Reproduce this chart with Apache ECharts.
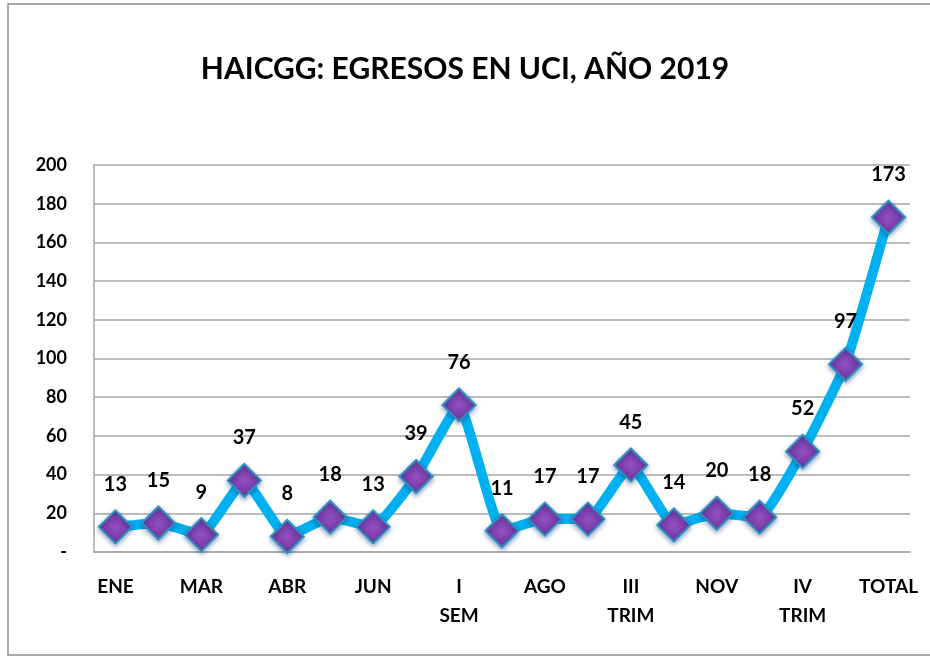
<!DOCTYPE html>
<html>
<head>
<meta charset="utf-8">
<title>HAICGG egresos UCI</title>
<script src="https://cdn.jsdelivr.net/npm/echarts@6/dist/echarts.min.js"></script>
<style>
  html, body { margin: 0; padding: 0; background: #fff; }
  #chart { width: 930px; height: 661px; }
</style>
</head>
<body>
<div id="chart"></div>
<script>
// meses, trimestres, semestres y total
var categorias = ['ENE', 'FEB', 'MAR', 'I\nTRIM', 'ABR', 'MAY', 'JUN', 'II\nTRIM', 'I\nSEM',
                  'JUL', 'AGO', 'SEP', 'III\nTRIM', 'OCT', 'NOV', 'DIC', 'IV\nTRIM', 'II\nSEM', 'TOTAL'];
var egresos = [13, 15, 9, 37, 8, 18, 13, 39, 76, 11, 17, 17, 45, 14, 20, 18, 52, 97, 173];
var yTicks = { min: 0, max: 200, interval: 20 };

var chart = echarts.init(document.getElementById('chart'));
var fuente = 'Lato, "Open Sans", sans-serif';

chart.setOption({
  backgroundColor: '#fff',
  animation: false,
  title: {
    text: 'HAICGG: EGRESOS EN UCI, AÑO 2019',
    left: 'center',
    top: 49,
    textStyle: { fontFamily: fuente, fontWeight: 'bold', fontSize: 30, color: '#000' }
  },
  graphic: [{
    type: 'rect',
    shape: { x: 8, y: 4, width: 940, height: 651 },
    style: { fill: 'none', stroke: '#8c8c8c', lineWidth: 1.5 },
    silent: true
  }],
  grid: { left: 94, right: 20, top: 165, bottom: 109 },
  xAxis: {
    type: 'category',
    data: categorias,
    boundaryGap: true,
    axisLine: { show: true, lineStyle: { color: '#a6a6a6', width: 1.5 } },
    axisTick: { show: false },
    axisLabel: {
      interval: 1,
      margin: 20,
      lineHeight: 29,
      fontFamily: fuente, fontWeight: 'bold', fontSize: 19, color: '#000'
    }
  },
  yAxis: {
    type: 'value',
    min: yTicks.min, max: yTicks.max, interval: yTicks.interval,
    axisLine: { show: true, lineStyle: { color: '#a6a6a6', width: 1.5 } },
    axisTick: { show: false },
    splitLine: { lineStyle: { color: '#a6a6a6', width: 1.5 } },
    axisLabel: {
      margin: 27,
      fontFamily: fuente, fontWeight: 'bold', fontSize: 18, color: '#000',
      formatter: function (v) { return v === 0 ? '-' : v; }
    }
  },
  series: [{
    type: 'line',
    data: egresos,
    smooth: 0.12,
    showAllSymbol: true,
    symbol: 'diamond',
    symbolSize: 33,
    lineStyle: { color: '#00b0f0', width: 10 },
    itemStyle: {
      color: new echarts.graphic.RadialGradient(0.5, 0.5, 0.6, [
        { offset: 0, color: '#9250c0' },
        { offset: 1, color: '#6a2d95' }
      ]),
      borderColor: '#2e8fc0',
      borderWidth: 2,
      shadowColor: 'rgba(0,60,120,0.45)',
      shadowBlur: 5,
      shadowOffsetY: 2
    },
    label: {
      show: true,
      position: 'top',
      distance: 15,
      fontFamily: fuente, fontWeight: 'bold', fontSize: 20, color: '#000'
    },
    labelLayout: { hideOverlap: false },
    z: 3
  }]
});
</script>
</body>
</html>
